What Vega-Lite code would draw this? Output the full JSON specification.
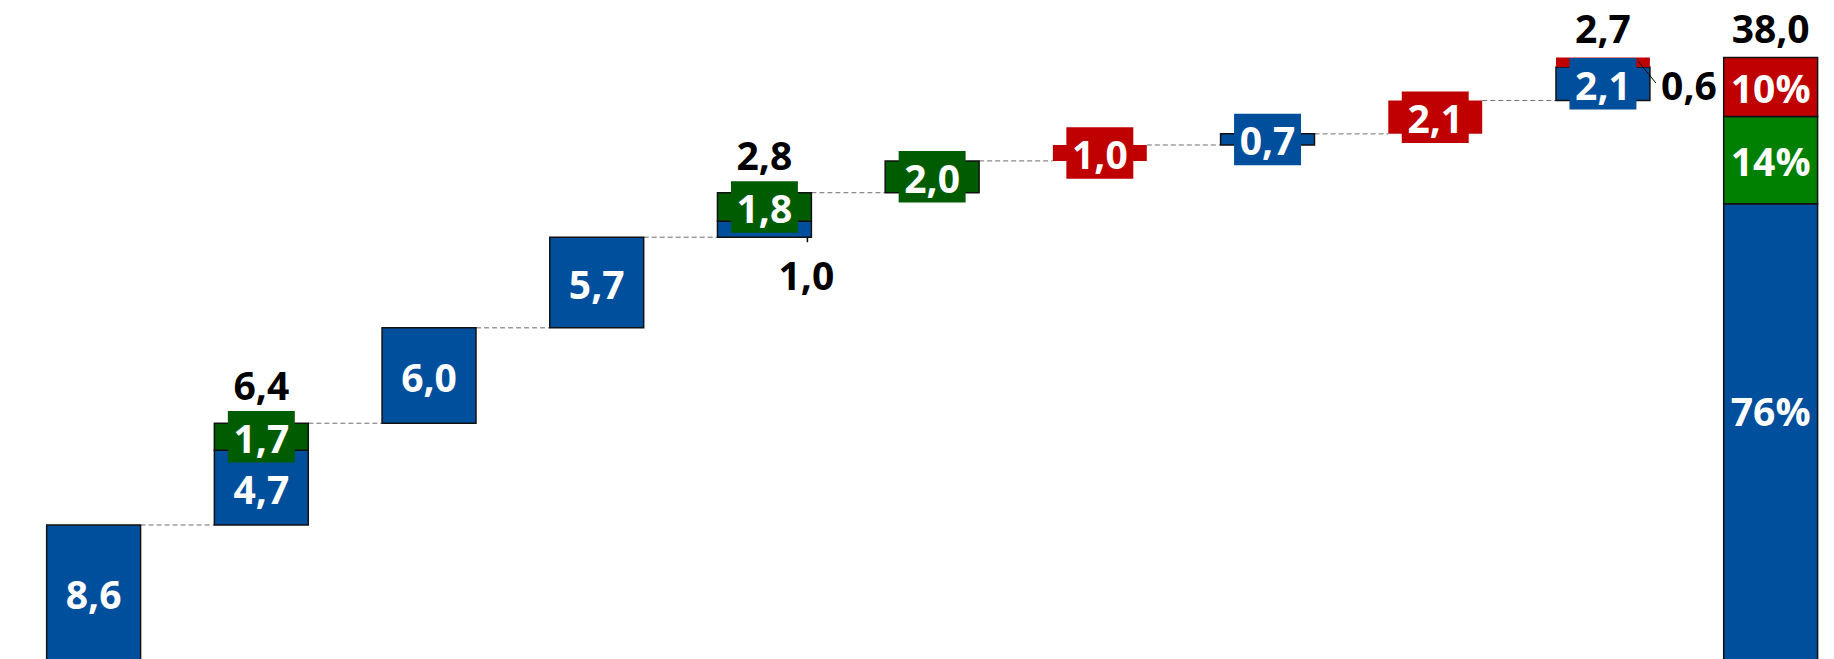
{
  "$schema": "https://vega.github.io/schema/vega-lite/v6.json",
  "width": 1834,
  "height": 659,
  "autosize": {"type": "none"},
  "padding": 0,
  "background": "white",
  "config": {"view": {"stroke": null}, "text": {"font": "Open Sans", "fontWeight": "bold", "fontSize": 39}},
  "datasets": {
    "segs": [
      {"step": 1, "lo": 0, "hi": 8.6, "c": "blue", "lab": "8,6", "at": "in"},
      {"step": 2, "lo": 8.6, "hi": 13.3, "c": "blue", "lab": "4,7", "at": "in"},
      {"step": 2, "lo": 13.3, "hi": 15.0, "c": "green", "lab": "1,7", "at": "in"},
      {"step": 3, "lo": 15.0, "hi": 21.0, "c": "blue", "lab": "6,0", "at": "in"},
      {"step": 4, "lo": 21.0, "hi": 26.7, "c": "blue", "lab": "5,7", "at": "in"},
      {"step": 5, "lo": 26.7, "hi": 27.7, "c": "blue", "lab": "1,0", "at": "below"},
      {"step": 5, "lo": 27.7, "hi": 29.5, "c": "green", "lab": "1,8", "at": "in"},
      {"step": 6, "lo": 29.5, "hi": 31.5, "c": "green", "lab": "2,0", "at": "in"},
      {"step": 7, "lo": 31.5, "hi": 32.5, "c": "red", "lab": "1,0", "at": "in"},
      {"step": 8, "lo": 32.5, "hi": 33.2, "c": "blue", "lab": "0,7", "at": "in"},
      {"step": 9, "lo": 33.2, "hi": 35.3, "c": "red", "lab": "2,1", "at": "in"},
      {"step": 10, "lo": 35.3, "hi": 37.4, "c": "blue", "lab": "2,1", "at": "in"},
      {"step": 10, "lo": 37.4, "hi": 38.0, "c": "red", "lab": "0,6", "at": "right"},
      {"step": 11, "lo": 0, "hi": 28.8, "c": "total blue", "lab": "76%", "at": "in"},
      {"step": 11, "lo": 28.8, "hi": 34.3, "c": "total green", "lab": "14%", "at": "in"},
      {"step": 11, "lo": 34.3, "hi": 38.0, "c": "total red", "lab": "10%", "at": "in"}
    ],
    "links": [
      {"from": 1, "to": 2, "level": 8.6},
      {"from": 2, "to": 3, "level": 15.0},
      {"from": 3, "to": 4, "level": 21.0},
      {"from": 4, "to": 5, "level": 26.7},
      {"from": 5, "to": 6, "level": 29.5},
      {"from": 6, "to": 7, "level": 31.5},
      {"from": 7, "to": 8, "level": 32.5},
      {"from": 8, "to": 9, "level": 33.2},
      {"from": 9, "to": 10, "level": 35.3}
    ],
    "tops": [
      {"step": 2, "top": 15.0, "lab": "6,4"},
      {"step": 5, "top": 29.5, "lab": "2,8"},
      {"step": 10, "top": 38.0, "lab": "2,7"},
      {"step": 11, "top": 38.0, "lab": "38,0"}
    ]
  },
  "layer": [
    {
      "data": {"name": "links"},
      "mark": {"type": "rule", "color": "#6f6f6f", "strokeWidth": 1, "strokeDash": [5, 3], "xOffset": 47, "x2Offset": -47},
      "encoding": {
        "x": {"field": "from", "type": "ordinal", "axis": null,
              "scale": {"domain": [1,2,3,4,5,6,7,8,9,10,11], "paddingInner": 0.44, "paddingOuter": 0.188, "align": 0.74}},
        "x2": {"field": "to"},
        "y": {"field": "level", "type": "quantitative", "axis": null,
              "scale": {"domain": [0.17, 41.62], "nice": false, "zero": false}}
      }
    },
    {
      "data": {"name": "segs"},
      "mark": {"type": "bar", "strokeWidth": 1.5, "clip": true},
      "encoding": {
        "x": {"field": "step", "type": "ordinal", "axis": null},
        "y": {"field": "lo", "type": "quantitative", "axis": null},
        "y2": {"field": "hi"},
        "color": {"field": "c", "type": "nominal", "legend": null,
                  "scale": {"domain": ["blue", "green", "red", "total blue", "total green", "total red"],
                            "range": ["#004F9C", "#005C00", "#C00000", "#004F9C", "#008000", "#C00000"]}},
        "stroke": {"condition": {"test": "datum.c === 'red'", "value": "transparent"}, "value": "#111111"}
      }
    },
    {
      "data": {"name": "segs"},
      "transform": [
        {"filter": "datum.at === 'in' && datum.hi - datum.lo < 3"},
        {"fold": ["lo", "hi"], "as": ["k", "v"]}
      ],
      "mark": {"type": "point", "shape": "M-1.3,-1H1.3V1H-1.3Z", "size": 2652, "filled": true, "opacity": 1, "strokeWidth": 0},
      "encoding": {
        "x": {"field": "step", "type": "ordinal"},
        "y": {"aggregate": "mean", "field": "v", "type": "quantitative"},
        "color": {"field": "c", "type": "nominal"}
      }
    },
    {
      "data": {"name": "segs"},
      "transform": [
        {"filter": "datum.at === 'in' && datum.c !== 'total blue'"},
        {"fold": ["lo", "hi"], "as": ["k", "v"]}
      ],
      "mark": {"type": "text", "color": "white", "baseline": "middle", "align": "center", "dy": 4},
      "encoding": {
        "x": {"field": "step", "type": "ordinal"},
        "y": {"aggregate": "mean", "field": "v", "type": "quantitative"},
        "text": {"field": "lab"},
        "detail": {"field": "c"}
      }
    },
    {
      "data": {"name": "segs"},
      "transform": [
        {"filter": "datum.c === 'total blue'"},
        {"fold": ["lo", "hi"], "as": ["k", "v"]}
      ],
      "mark": {"type": "text", "color": "white", "baseline": "middle", "align": "center", "dy": -19},
      "encoding": {
        "x": {"field": "step", "type": "ordinal"},
        "y": {"aggregate": "mean", "field": "v", "type": "quantitative"},
        "text": {"field": "lab"},
        "detail": {"field": "c"}
      }
    },
    {
      "data": {"name": "segs"},
      "transform": [{"filter": "datum.at === 'below'"}],
      "mark": {"type": "text", "color": "black", "baseline": "middle", "align": "center", "dx": 42, "dy": 41},
      "encoding": {
        "x": {"field": "step", "type": "ordinal"},
        "y": {"field": "lo", "type": "quantitative"},
        "text": {"field": "lab"}
      }
    },
    {
      "data": {"name": "segs"},
      "transform": [{"filter": "datum.at === 'below'"}],
      "mark": {"type": "rule", "color": "black", "strokeWidth": 1.5, "xOffset": 43, "x2Offset": 43, "y2Offset": 5},
      "encoding": {
        "x": {"field": "step", "type": "ordinal"},
        "x2": {"field": "step"},
        "y": {"field": "lo", "type": "quantitative"},
        "y2": {"field": "lo"}
      }
    },
    {
      "data": {"name": "segs"},
      "transform": [{"filter": "datum.at === 'right'"}],
      "mark": {"type": "text", "color": "black", "baseline": "middle", "align": "center", "dx": 86, "dy": 21},
      "encoding": {
        "x": {"field": "step", "type": "ordinal"},
        "y": {"field": "lo", "type": "quantitative"},
        "text": {"field": "lab"}
      }
    },
    {
      "data": {"name": "segs"},
      "transform": [{"filter": "datum.at === 'right'"}],
      "mark": {"type": "rule", "color": "black", "strokeWidth": 1, "xOffset": 35.5, "x2Offset": 53, "yOffset": 4, "y2Offset": 16},
      "encoding": {
        "x": {"field": "step", "type": "ordinal"},
        "x2": {"field": "step"},
        "y": {"field": "hi", "type": "quantitative"},
        "y2": {"field": "lo"}
      }
    },
    {
      "data": {"name": "tops"},
      "transform": [{"filter": "datum.step < 10"}],
      "mark": {"type": "text", "color": "black", "baseline": "alphabetic", "align": "center", "dy": -23},
      "encoding": {
        "x": {"field": "step", "type": "ordinal"},
        "y": {"field": "top", "type": "quantitative"},
        "text": {"field": "lab"}
      }
    },
    {
      "data": {"name": "tops"},
      "transform": [{"filter": "datum.step >= 10"}],
      "mark": {"type": "text", "color": "black", "baseline": "alphabetic", "align": "center", "dy": -15},
      "encoding": {
        "x": {"field": "step", "type": "ordinal"},
        "y": {"field": "top", "type": "quantitative"},
        "text": {"field": "lab"}
      }
    }
  ]
}
